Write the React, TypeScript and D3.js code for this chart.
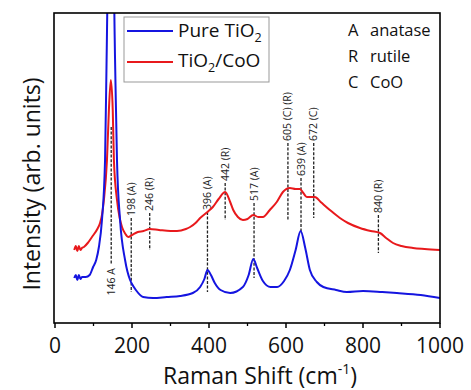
import { useMemo } from "react";
import * as d3 from "d3";

const WIDTH = 471;
const HEIGHT = 390;
const MARGIN = { top: 13, right: 31, bottom: 67, left: 54 };
const FONT = "'Open Sans', 'Noto Sans', sans-serif";

// Pure TiO2 (blue) - wavenumber / intensity (arb.)
const pureShift = [50, 54, 58, 62, 66, 70, 80, 90, 99, 107, 114, 122, 130, 134, 145, 156, 161, 169, 182, 195, 200, 210, 229, 255, 290, 325, 358, 377, 388, 396, 405, 415, 430, 455, 488, 503, 515, 525, 540, 560, 577, 595, 610, 625, 638, 650, 662, 680, 697, 730, 758, 800, 850, 888, 950, 1000];
const pureInt = [45, 48, 43, 48, 44, 46, 46, 48, 56, 63, 76, 103, 163, 263, 523, 263, 163, 103, 63, 43, 39, 33, 26, 25, 26, 27, 30, 36, 44, 53, 48, 40, 33, 30, 36, 48, 64, 55, 42, 36, 36, 42, 53, 73, 92, 75, 53, 41, 36, 33, 31, 32, 31, 30, 28, 25];

// TiO2/CoO (red)
const cooShift = [50, 54, 58, 62, 66, 70, 75, 85, 96, 110, 117, 122, 127, 135, 140, 145, 150, 153, 161, 168, 174, 183, 190, 200, 215, 230, 246, 270, 300, 317, 340, 351, 365, 377, 396, 410, 425, 442, 455, 463, 475, 488, 500, 515, 528, 540, 558, 576, 592, 610, 625, 636, 645, 654, 665, 675, 690, 714, 740, 761, 792, 820, 844, 860, 878, 900, 930, 960, 1000];
const cooInt = [73, 77, 72, 77, 73, 75, 76, 80, 86, 94, 100, 108, 123, 163, 213, 243, 213, 163, 123, 105, 96, 89, 86, 88, 91, 92, 94, 93, 92, 92, 94, 96, 100, 105, 111, 116, 124, 131, 121, 113, 106, 103, 104, 108, 106, 106, 113, 121, 131, 135, 134, 134, 130, 126, 126, 126, 121, 113, 105, 100, 95, 92, 90, 85, 80, 77, 75, 74, 73];

// peak assignments: position, label, dashed marker extent (intensity)
const peakPos = [146, 198, 246, 396, 442, 517, 605, 639, 672, 840];
const peakLabel = ["146 A", "198 (A)", "246 (R)", "396 (A)", "442 (R)", "517 (A)", "605 (C) (R)", "639 (A)", "672 (C)", "840 (R)"];
const peakTop = [196, 105, 110, 111, 140, 120, 180, 145, 180, 108];
const peakBottom = [58, 31, 73, 31, 103, 45, 103, 91, 105, 70];

const xTicks = [0, 200, 400, 600, 800, 1000];
const xMinor = [100, 300, 500, 700, 900];

const keyLetters = ["A", "R", "C"];
const keyNames = ["anatase", "rutile", "CoO"];

export default function App() {
  const boundsWidth = WIDTH - MARGIN.left - MARGIN.right;
  const boundsHeight = HEIGHT - MARGIN.top - MARGIN.bottom;

  const xScale = useMemo(
    () => d3.scaleLinear().domain([0, 1000]).range([1, boundsWidth]),
    [boundsWidth]
  );
  const yScale = useMemo(
    () => d3.scaleLinear().domain([0, 310]).range([boundsHeight, 0]),
    [boundsHeight]
  );

  const line = d3
    .line<[number, number]>()
    .x((d) => xScale(d[0]))
    .y((d) => yScale(d[1]))
    .curve(d3.curveMonotoneX);

  const purePath = line(pureShift.map((s, i) => [s, pureInt[i]]));
  const cooPath = line(cooShift.map((s, i) => [s, cooInt[i]]));

  return (
    <svg
      width={WIDTH}
      height={HEIGHT}
      style={{ position: "absolute", left: 0, top: 0, background: "#fff" }}
      fontFamily={FONT}
    >
      <defs>
        <clipPath id="plot-clip">
          <rect x={0} y={0} width={boundsWidth} height={boundsHeight} />
        </clipPath>
      </defs>
      <g transform={`translate(${MARGIN.left},${MARGIN.top})`}>
        {/* peak markers */}
        {peakPos.map((p, i) => {
          const x = xScale(p);
          const y1 = yScale(peakTop[i]);
          const y2 = yScale(peakBottom[i]);
          const below = i === 0;
          return (
            <g key={peakLabel[i]}>
              <line x1={x} x2={x} y1={y1} y2={y2} stroke="#222" strokeWidth={1.3} strokeDasharray="3,1.6" />
              <text
                transform={`translate(${x + 3.5},${below ? y2 + 3 : y1 - 2}) rotate(-90)`}
                textAnchor={below ? "end" : "start"}
                fontSize={10.5}
                fill="#222"
              >
                {peakLabel[i]}
              </text>
            </g>
          );
        })}

        <g clipPath="url(#plot-clip)">
          <path d={cooPath ?? ""} fill="none" stroke="#e8191c" strokeWidth={2} strokeLinejoin="round" />
          <path d={purePath ?? ""} fill="none" stroke="#1515e0" strokeWidth={2} strokeLinejoin="round" />
        </g>

        {/* frame */}
        <rect x={0} y={0} width={boundsWidth} height={boundsHeight} fill="none" stroke="#000" strokeWidth={1.6} />

        {/* x axis ticks */}
        {xTicks.map((t) => (
          <g key={t} transform={`translate(${xScale(t)},${boundsHeight})`}>
            <line y1={0} y2={5} stroke="#000" strokeWidth={1.5} />
            <text y={30} textAnchor="middle" fontSize={21} fill="#111">
              {t}
            </text>
          </g>
        ))}
        {xMinor.map((t) => (
          <line key={t} x1={xScale(t)} x2={xScale(t)} y1={boundsHeight} y2={boundsHeight + 3} stroke="#000" strokeWidth={1.3} />
        ))}

        {/* legend */}
        <g transform="translate(70,4)">
          <rect x={0} y={0} width={145} height={65} fill="#fff" stroke="#999" strokeWidth={1} />
          <line x1={3} x2={49} y1={14} y2={14} stroke="#1515e0" strokeWidth={2} />
          <text x={54} y={20} fontSize={19} fill="#111">
            Pure TiO<tspan fontSize={12.5} dy={5}>2</tspan>
          </text>
          <line x1={3} x2={49} y1={45} y2={45} stroke="#e8191c" strokeWidth={2} />
          <text x={54} y={50} fontSize={19} fill="#111">
            TiO<tspan fontSize={12.5} dy={5}>2</tspan>
            <tspan dy={-5}>/CoO</tspan>
          </text>
        </g>

        {/* phase key */}
        {keyLetters.map((k, i) => (
          <g key={k} transform={`translate(294,${23 + i * 26})`}>
            <text x={0} fontSize={16.5} fill="#111">{k}</text>
            <text x={22} fontSize={16.5} fill="#111">{keyNames[i]}</text>
          </g>
        ))}
      </g>

      {/* axis titles */}
      <text x={260} y={384} textAnchor="middle" fontSize={23} fill="#111">
        Raman Shift (cm<tspan fontSize={14} dy={-10}>-1</tspan>
        <tspan dy={10}>)</tspan>
      </text>
      <text transform="translate(40,184) rotate(-90)" textAnchor="middle" fontSize={23} fill="#111">
        Intensity (arb. units)
      </text>
    </svg>
  );
}
